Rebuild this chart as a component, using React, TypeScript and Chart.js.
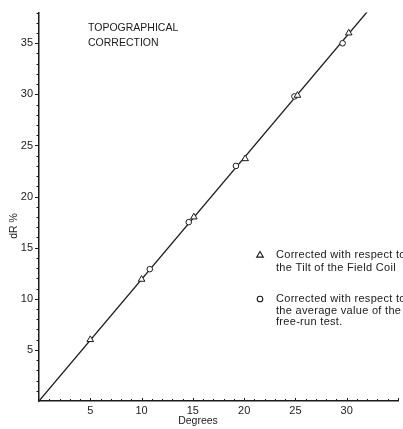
import React, { useEffect, useRef } from "react";
import { Chart, registerables } from "chart.js";

Chart.register(...registerables);

// Corrected with respect to the tilt of the field coil (triangles)
const tiltDegrees = [5, 10, 15.1, 20.1, 25.2, 30.2];
const tiltDR = [6, 11.9, 18, 23.7, 29.9, 36];

// Corrected with respect to the average value of the free-run test (circles)
const freeRunDegrees = [10.8, 14.6, 19.2, 24.9, 29.6];
const freeRunDR = [12.9, 17.5, 23.0, 29.8, 35.0];

// Straight calibration line through the origin
const lineDegrees = [0, 32.1];
const lineDR = [0, 38.2];

const xTickLabels = [5, 10, 15, 20, 25, 30];
const yTickLabels = [5, 10, 15, 20, 25, 30, 35];

const titleLines = ["TOPOGRAPHICAL", "CORRECTION"];
const legendTilt = ["Corrected with respect to", "the Tilt of the Field Coil"];
const legendFreeRun = ["Corrected with respect to", "the average value of the", "free-run test."];

const INK = "#1a1a1a";
const FONT = "'Liberation Sans', Arial, sans-serif";

const toPoints = (xs: number[], ys: number[]) => xs.map((x, i) => ({ x, y: ys[i] }));

function drawTriangle(ctx: CanvasRenderingContext2D, x: number, y: number, r: number) {
  ctx.beginPath();
  ctx.moveTo(x, y - r);
  ctx.lineTo(x + r * 0.95, y + r * 0.6);
  ctx.lineTo(x - r * 0.95, y + r * 0.6);
  ctx.closePath();
  ctx.fillStyle = "#fff";
  ctx.fill();
  ctx.stroke();
}

const decorations = {
  id: "decorations",
  afterDraw(chart: any) {
    const ctx: any = chart.ctx;
    const xs = chart.scales.x;
    const ys = chart.scales.y;
    const area = chart.chartArea;
    ctx.save();
    ctx.strokeStyle = INK;
    ctx.lineWidth = 1;

    // minor ticks on the y axis (left side)
    for (let v = 1; v <= 38; v++) {
      const py = Math.round(ys.getPixelForValue(v)) + 0.5;
      const len = v % 5 === 0 ? 4 : 2.5;
      ctx.beginPath();
      ctx.moveTo(area.left - len, py);
      ctx.lineTo(area.left, py);
      ctx.stroke();
    }
    // minor ticks on the x axis (pointing up)
    for (let v = 1; v <= 35; v++) {
      const px = Math.round(xs.getPixelForValue(v)) + 0.5;
      const len = v % 5 === 0 ? 3 : 2;
      ctx.beginPath();
      ctx.moveTo(px, area.bottom);
      ctx.lineTo(px, area.bottom - len);
      ctx.stroke();
    }

    ctx.fillStyle = INK;
    ctx.textBaseline = "middle";
    ctx.textAlign = "left";

    // title block
    ctx.font = `10.5px ${FONT}`;
    titleLines.forEach((t, i) => ctx.fillText(t, 88, 28 + i * 15));

    // legend
    ctx.font = `11px ${FONT}`;
    ctx.letterSpacing = "0.3px";
    ctx.lineWidth = 1.1;
    drawTriangle(ctx, 260, 255, 3.5);
    ctx.fillStyle = INK;
    legendTilt.forEach((t, i) => ctx.fillText(t, 276, 255 + i * 12.5));
    ctx.beginPath();
    ctx.arc(260, 299, 2.8, 0, Math.PI * 2);
    ctx.fillStyle = "#fff";
    ctx.fill();
    ctx.stroke();
    ctx.fillStyle = INK;
    legendFreeRun.forEach((t, i) => ctx.fillText(t, 276, 299 + i * 11.5));
    ctx.letterSpacing = "0px";

    // axis titles
    ctx.font = `10.5px ${FONT}`;
    ctx.textAlign = "center";
    ctx.fillText("Degrees", 198, 421);
    ctx.translate(14, 226);
    ctx.rotate(-Math.PI / 2);
    ctx.fillText("dR %", 0, 0);
    ctx.restore();
  },
};

export default function App() {
  const canvasRef = useRef<HTMLCanvasElement | null>(null);

  useEffect(() => {
    if (!canvasRef.current) return;
    const chart = new Chart(canvasRef.current, {
      type: "scatter",
      data: {
        datasets: [
          {
            type: "line",
            data: toPoints(lineDegrees, lineDR),
            borderColor: INK,
            borderWidth: 1.3,
            pointRadius: 0,
            fill: false,
            order: 3,
          },
          {
            data: toPoints(tiltDegrees, tiltDR),
            pointStyle: "triangle",
            pointRadius: 3.8,
            borderColor: INK,
            borderWidth: 1,
            backgroundColor: "#fff",
            order: 1,
          },
          {
            data: toPoints(freeRunDegrees, freeRunDR),
            pointStyle: "circle",
            pointRadius: 2.8,
            borderColor: INK,
            borderWidth: 1,
            backgroundColor: "#fff",
            order: 2,
          },
        ],
      },
      options: {
        animation: false,
        responsive: false,
        maintainAspectRatio: false,
        layout: { padding: { top: 12, right: 0, left: 0, bottom: 0 } },
        plugins: { legend: { display: false }, tooltip: { enabled: false } },
        scales: {
          x: {
            type: "linear",
            min: 0,
            max: 35,
            grid: { display: false, drawTicks: false, tickLength: 0 },
            border: { display: true, color: INK, width: 1.5 },
            afterBuildTicks: (s: any) => {
              s.ticks = xTickLabels.map((v) => ({ value: v }));
            },
            afterFit: (s: any) => {
              s.height = 28;
            },
            ticks: {
              color: INK,
              padding: 3,
              maxRotation: 0,
              font: { family: FONT, size: 11 },
            },
          },
          y: {
            type: "linear",
            min: 0,
            max: 38,
            grid: { display: false, drawTicks: false, tickLength: 0 },
            border: { display: true, color: INK, width: 1.5 },
            afterBuildTicks: (s: any) => {
              s.ticks = yTickLabels.map((v) => ({ value: v }));
            },
            afterFit: (s: any) => {
              s.width = 39;
            },
            ticks: {
              color: INK,
              padding: 6,
              font: { family: FONT, size: 11 },
            },
          },
        },
      },
      plugins: [decorations],
    });
    return () => chart.destroy();
  }, []);

  return (
    <div style={{ position: "absolute", left: 0, top: 0, width: 403, height: 429, background: "#fff" }}>
      <canvas ref={canvasRef} width={403} height={429} style={{ width: 403, height: 429 }} />
    </div>
  );
}
